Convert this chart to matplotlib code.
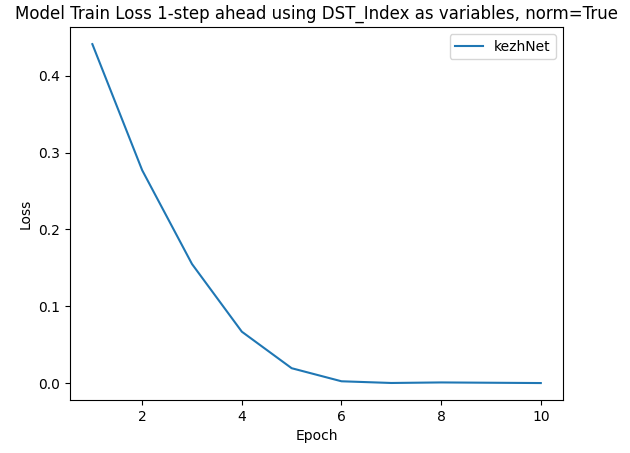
import matplotlib
matplotlib.use("Agg")
import matplotlib.pyplot as plt

epochs = [1, 2, 3, 4, 5, 6, 7, 8, 9, 10]
loss = [0.441, 0.277, 0.155, 0.067, 0.0195, 0.0025, 0.0003, 0.0010, 0.0006, 0.0002]

fig = plt.figure(figsize=(6.3, 4.53), dpi=100)
ax = fig.add_axes([0.111, 0.117, 0.783, 0.823])
ax.plot(epochs, loss, label="kezhNet")
ax.set_title("Model Train Loss 1-step ahead using DST_Index as variables, norm=True")
ax.set_xlabel("Epoch")
ax.set_ylabel("Loss")
ax.legend(loc="upper right")
fig.savefig("out.png", dpi=100)
